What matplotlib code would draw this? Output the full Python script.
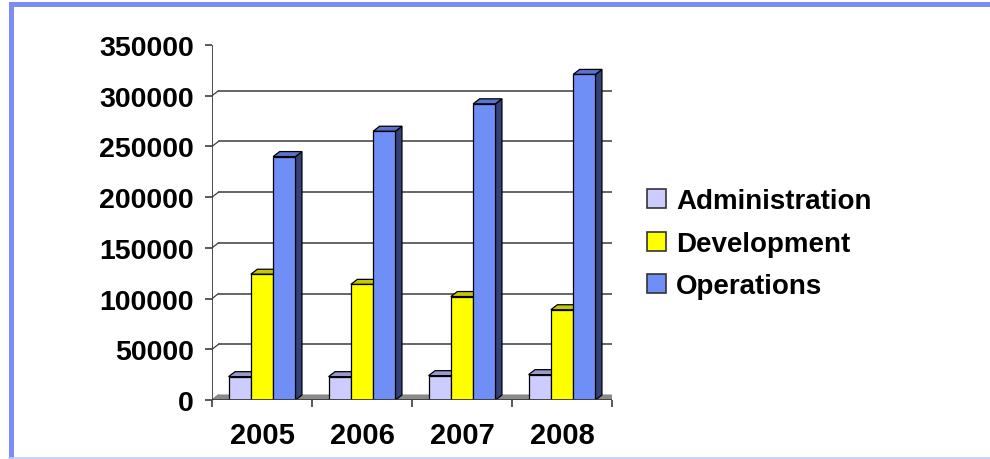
import matplotlib
matplotlib.use("Agg")
import matplotlib.pyplot as plt
from matplotlib.patches import Polygon, Rectangle
from matplotlib.lines import Line2D
from matplotlib.transforms import offset_copy

years = ["2005", "2006", "2007", "2008"]
series_names = ["Administration", "Development", "Operations"]
administration = [23000, 23000, 24000, 25000]
development = [124000, 114000, 102000, 89000]
operations = [240000, 265000, 292000, 321000]
y_ticks = [0, 50000, 100000, 150000, 200000, 250000, 300000, 350000]

series = [administration, development, operations]
front_cols = ["#ccccff", "#ffff00", "#6f8ff7"]
top_cols = ["#9999cc", "#c8c800", "#5a73d0"]
side_cols = ["#66668f", "#8f8f00", "#33427a"]

plt.rcParams['font.family'] = ['Liberation Sans', 'DejaVu Sans']
W, H = 990, 460
fig = plt.figure(figsize=(W / 100, H / 100), dpi=100)

# frame
border = "#7b8cf4"
fig.add_artist(Rectangle((10 / W, 1 - 8 / H), 980 / W, 5 / H, transform=fig.transFigure,
                         color=border, lw=0))
fig.add_artist(Rectangle((9 / W, 0), 5 / W, 1 - 3 / H, transform=fig.transFigure,
                         color=border, lw=0))
fig.add_artist(Line2D([9 / W, 1], [1.5 / H, 1.5 / H], transform=fig.transFigure,
                      color="#c4cbf8", lw=1.2))

x0, x1, yb, yt = 212, 612, 401, 46
ax = fig.add_axes([x0 / W, (H - yb) / H, (x1 - x0) / W, (yb - yt) / H])
ax.set_xlim(0, 4)
ax.set_ylim(0, 350000)
for s in ax.spines.values():
    s.set_visible(False)
ax.patch.set_visible(False)

DX, DY = 6.5, 5.0  # depth in pixels
dxd = DX * 4 / (x1 - x0)
dyd = DY * 350000 / (yb - yt)

ytr = ax.get_yaxis_transform()
back_y = offset_copy(ytr, fig=fig, x=DX, y=DY, units='dots')

# floor
ax.add_patch(Polygon([(0, 0), (4, 0), (4 + dxd, dyd), (dxd, dyd)], closed=True,
                     facecolor="#8a8a8a", edgecolor="#8a8a8a", lw=0.8, zorder=1))

# gridlines on back wall + diagonal connectors
for v in y_ticks:
    col = "#b8b8b8" if v == 350000 else "#3c3c3c"
    if v > 0:
        ax.plot([0, 1], [v, v], transform=back_y, color=col, lw=1.1, zorder=0.5)
    ax.add_line(Line2D([0, dxd], [v, v + dyd], color=col, lw=0.9, zorder=0.6))

# axes lines
ax.add_line(Line2D([0, 0], [0, 350000], color="#3c3c3c", lw=1.3, zorder=5))
ax.add_line(Line2D([0, 4], [0, 0], color="#3c3c3c", lw=1.3, zorder=5))

# bars
bw = 0.223
for i in range(len(years)):
    for k, vals in enumerate(series):
        h = vals[i]
        left = i + 0.5 + (k - 1.5) * bw
        right = left + bw
        z = 2 + k * 0.1
        ax.add_patch(Polygon([(right, 0), (right + dxd, dyd), (right + dxd, h + dyd), (right, h)],
                             closed=True, facecolor=side_cols[k], edgecolor="black", lw=0.9, zorder=z))
        ax.add_patch(Polygon([(left, h), (right, h), (right + dxd, h + dyd), (left + dxd, h + dyd)],
                             closed=True, facecolor=top_cols[k], edgecolor="black", lw=0.9, zorder=z))
        ax.bar(left, h, width=bw, align='edge', color=front_cols[k], edgecolor="black",
               lw=0.9, zorder=z + 0.01)

# ticks
ax.set_yticks(y_ticks)
ax.set_yticklabels([str(v) for v in y_ticks], fontsize=20.5, fontweight='bold')
ax.tick_params(axis='y', length=5, width=1.2, color="#3c3c3c", pad=8)
ax.set_xticks([0, 1, 2, 3, 4])
ax.set_xticklabels([])
ax.tick_params(axis='x', which='major', length=5, width=1.2, color="#3c3c3c", direction='out')
ax.set_xticks([0.5, 1.5, 2.5, 3.5], minor=True)
ax.set_xticklabels(years, minor=True, fontsize=21, fontweight='bold')
ax.tick_params(axis='x', which='minor', length=0, pad=15)

# legend
handles = [Rectangle((0, 0), 1, 1, facecolor=front_cols[k], edgecolor="#333333", lw=1.2)
           for k in range(3)]
leg = fig.legend(handles, series_names, loc='upper left', bbox_to_anchor=(636 / W, 1 - 178 / H),
                 frameon=False, prop={'size': 20, 'weight': 'bold'}, handlelength=0.68,
                 handleheight=0.68, handletextpad=0.36, labelspacing=0.6, borderaxespad=0)

fig.savefig("out.png", dpi=100)
